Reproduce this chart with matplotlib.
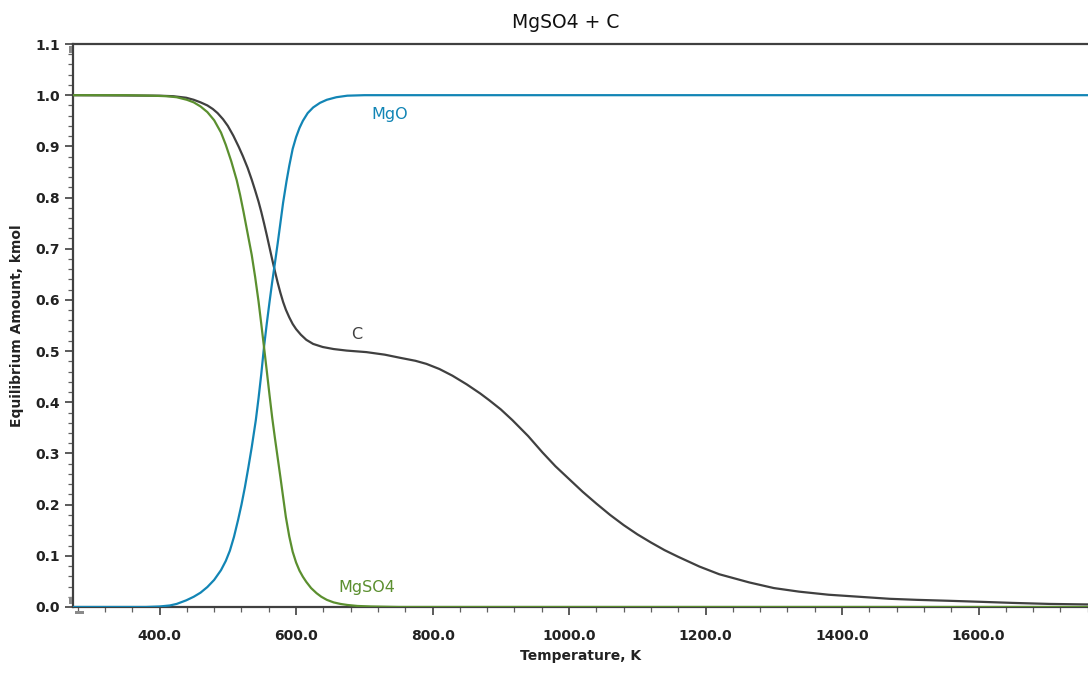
import matplotlib
matplotlib.use("Agg")
import matplotlib.pyplot as plt
from matplotlib.patches import Rectangle
from matplotlib.ticker import MultipleLocator, FormatStrFormatter

# ── equilibrium amounts (kmol) vs temperature (K) ─────────────────────────────
T_MGSO4 = [273.15, 350, 390, 410, 425, 440, 450, 460, 470, 480, 490, 497, 505,
           513, 518, 523, 529, 535, 540, 545, 549, 553, 557, 561, 565, 569,
           573, 577, 581, 585, 590, 595, 600, 605, 610, 615, 622, 630, 637,
           645, 655, 665, 675, 690, 710, 750, 1000, 1760]
MGSO4 = [1.0, 1.0, 0.999, 0.998, 0.996, 0.991, 0.986, 0.978, 0.967, 0.951,
         0.927, 0.903, 0.871, 0.834, 0.805, 0.772, 0.730, 0.688, 0.645, 0.597,
         0.553, 0.508, 0.462, 0.415, 0.370, 0.330, 0.292, 0.254, 0.215, 0.176,
         0.138, 0.108, 0.087, 0.071, 0.059, 0.049, 0.037, 0.027, 0.020, 0.014,
         0.009, 0.006, 0.004, 0.002, 0.001, 0.0, 0.0, 0.0]

T_MGO = [273.15, 380, 400, 415, 425, 439, 450, 460, 470, 480, 490, 497, 503,
         509, 515, 520, 525, 530, 535, 541, 545, 549, 553, 557, 561, 565, 569,
         573, 577, 581, 586, 590, 595, 600, 605, 610, 617, 625, 635, 645, 659,
         675, 700, 1000, 1760]
MGO = [0.0, 0.0, 0.001, 0.003, 0.006, 0.013, 0.020, 0.028, 0.039, 0.053,
       0.072, 0.090, 0.110, 0.137, 0.170, 0.200, 0.234, 0.272, 0.312, 0.365,
       0.408, 0.455, 0.508, 0.553, 0.595, 0.635, 0.672, 0.710, 0.750, 0.790,
       0.832, 0.862, 0.895, 0.918, 0.936, 0.950, 0.965, 0.976, 0.985, 0.991,
       0.996, 0.999, 1.0, 1.0, 1.0]

T_C = [273.15, 400, 420, 439, 450, 460, 470, 478, 485, 493, 500, 508, 516,
       522, 529, 535, 540, 545, 549, 553, 557, 561, 565, 569, 573, 577, 581,
       585, 590, 595, 600, 607, 615, 625, 639, 655, 674, 703, 730, 752, 775,
       791, 810, 829, 850, 870, 883, 900, 917, 940, 961, 980, 1000, 1020,
       1040, 1060, 1080, 1100, 1120, 1140, 1160, 1191, 1220, 1264, 1300,
       1337, 1380, 1425, 1470, 1509, 1560, 1606, 1650, 1704, 1760]
C = [1.0, 0.999, 0.998, 0.995, 0.991, 0.986, 0.980, 0.973, 0.965, 0.953,
     0.940, 0.921, 0.899, 0.881, 0.858, 0.835, 0.814, 0.792, 0.772, 0.750,
     0.727, 0.703, 0.679, 0.656, 0.634, 0.614, 0.596, 0.581, 0.566, 0.553,
     0.543, 0.532, 0.522, 0.514, 0.508, 0.504, 0.501, 0.498, 0.493, 0.487,
     0.481, 0.475, 0.465, 0.452, 0.435, 0.417, 0.404, 0.386, 0.365, 0.334,
     0.302, 0.275, 0.250, 0.225, 0.202, 0.180, 0.160, 0.142, 0.126, 0.111,
     0.098, 0.079, 0.064, 0.048, 0.037, 0.030, 0.024, 0.020, 0.016, 0.014,
     0.012, 0.010, 0.008, 0.006, 0.005]

COL_MGO = "#1285b5"
COL_MGSO4 = "#5b8f2f"
COL_C = "#404040"
AXIS_COL = "#404040"

fig = plt.figure(figsize=(10.88, 6.74), dpi=100)
ax = fig.add_axes([73 / 1088, 67 / 674, 1015 / 1088, 563 / 674])

ax.plot(T_C, C, color=COL_C, lw=1.6, zorder=3)
ax.plot(T_MGO, MGO, color=COL_MGO, lw=1.6, zorder=4)
ax.plot(T_MGSO4, MGSO4, color=COL_MGSO4, lw=1.6, zorder=5)

ax.text(737, 0.963, "MgO", color=COL_MGO, fontsize=11.5, ha="center", va="center")
ax.text(689, 0.533, "C", color=COL_C, fontsize=11.5, ha="center", va="center")
ax.text(704, 0.039, "MgSO4", color=COL_MGSO4, fontsize=11.5, ha="center", va="center")

ax.set_xlim(273.15, 1760.3)
ax.set_ylim(0.0, 1.1)

ax.xaxis.set_major_locator(MultipleLocator(200))
ax.xaxis.set_minor_locator(MultipleLocator(40))
ax.yaxis.set_major_locator(MultipleLocator(0.1))
ax.yaxis.set_minor_locator(MultipleLocator(0.02))
ax.xaxis.set_major_formatter(FormatStrFormatter("%.1f"))
ax.yaxis.set_major_formatter(FormatStrFormatter("%.1f"))

ax.tick_params(which="major", direction="out", length=6, width=1.2,
               color=AXIS_COL, labelsize=10, labelcolor="#222222")
ax.tick_params(which="minor", direction="out", length=3.5, width=0.9,
               color="#606060")
ax.tick_params(axis="x", which="major", pad=10)
for lab in ax.get_xticklabels() + ax.get_yticklabels():
    lab.set_fontweight("semibold")

ax.spines["right"].set_visible(False)
for side in ("left", "top", "bottom"):
    ax.spines[side].set_color(AXIS_COL)
    ax.spines[side].set_linewidth(1.6)

ax.set_xlabel("Temperature, K", fontsize=10, fontweight="semibold",
              color="#222222", labelpad=4)
ax.set_ylabel("Equilibrium Amount, kmol", fontsize=10, fontweight="semibold",
              color="#222222", labelpad=8)
fig.text(566 / 1088, 1 - 22 / 674, "MgSO4 + C", fontsize=13.5,
         ha="center", va="center", color="#111111")

# small grey scroll handles along the axes
W, H = 1088, 674
for x0, y0, w, h in [(69, 46, 3, 7), (69, 597, 3, 7), (75, 611, 9, 3)]:
    fig.add_artist(Rectangle((x0 / W, 1 - (y0 + h) / H), w / W, h / H,
                             transform=fig.transFigure, facecolor="#8a8a8a",
                             edgecolor="none"))

fig.savefig("out.png", dpi=100)
